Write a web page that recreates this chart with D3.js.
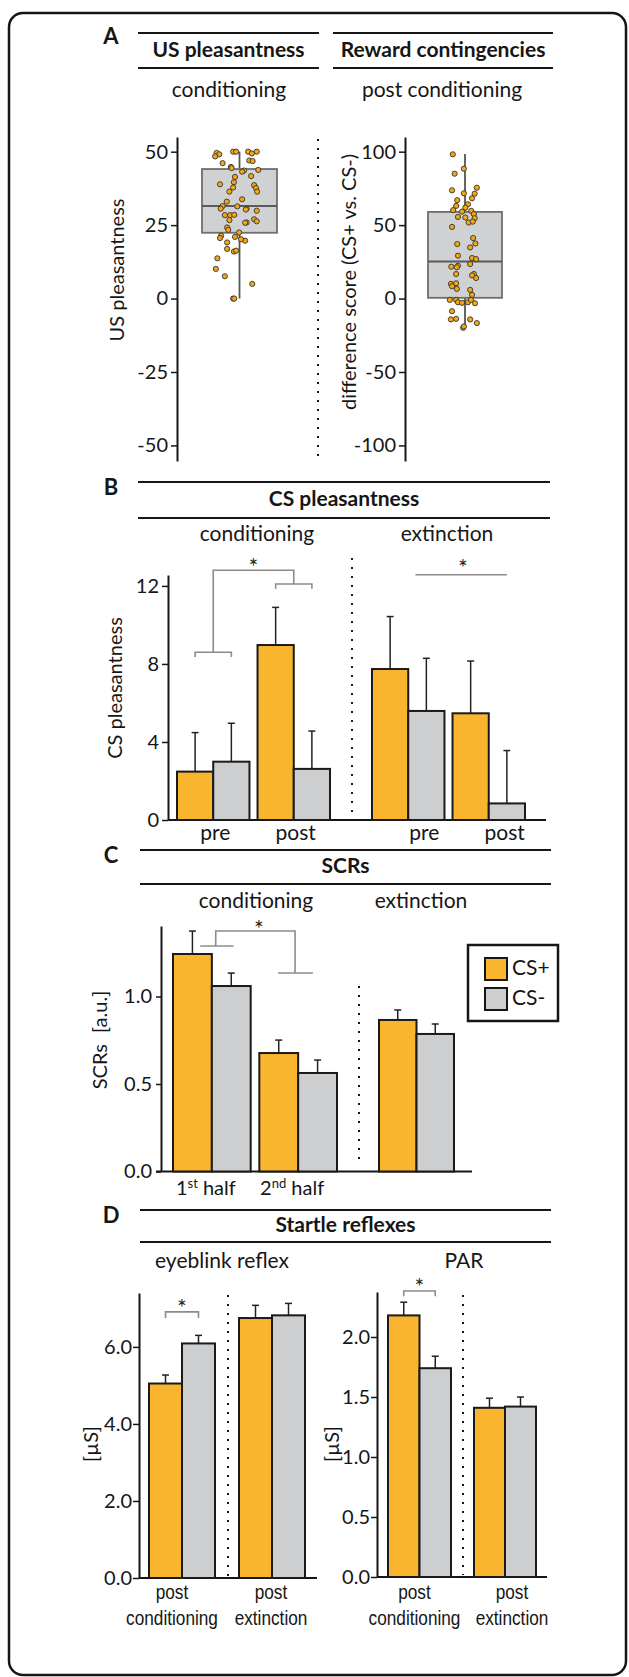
<!DOCTYPE html>
<html>
<head>
<meta charset="utf-8">
<script src="https://cdn.jsdelivr.net/npm/d3@7"></script>
<style>
  body { margin: 0; background: #fff; }
  svg { display: block; }
</style>
</head>
<body>
<div id="figure"></div>
<script>
// ---------- data ----------

// A: US pleasantness, one dot per participant + horizontal jitter (-1..1 of half box)
let usValues = [49.6, 49.1, 48.4, 50, 50, 50, 49.4, 50, 47.0, 46.8, 46.1, 44.8, 44.4, 43.8, 43.6,
  43.2, 41.4, 41.7, 39.6, 38.9, 38.6, 37.6, 36.4, 36.4, 37.8, 33.8, 33.0, 31.5, 30.6, 31.4,
  30.6, 30.3, 29.9, 28.4, 28.4, 28.5, 27.0, 26.3, 26.7, 25.9, 25.8, 24.2, 23.4, 22.5, 21.4,
  20.6, 21.0, 19.1, 19.7, 20.2, 16.9, 16.0, 16.3, 13.7, 10.1, 7.6, 5.0, 0, 0];
let usJitter = [-0.61, -0.54, -0.65, -0.17, -0.09, 0.23, 0.33, 0.46, 0.26, 0.35, -0.45, -0.23, -0.21, 0.5, 0.12,
  0.07, -0.12, 0.31, -0.15, -0.52, 0.39, 0.44, 0.47, -0.27, -0.17, 0.07, -0.34, -0.45, -0.5, -0.06,
  0.19, 0.17, 0.46, -0.39, -0.25, -0.14, 0.39, 0.46, -0.27, 0.19, 0.15, -0.33, -0.3, -0.01, -0.49,
  -0.52, -0.12, -0.33, 0.15, 0.04, -0.33, -0.15, -0.09, -0.59, -0.63, -0.39, 0.34, -0.17, -0.14];
let usBox = [0, 22.4, 31.5, 44.1, 50]; // min, q1, median, q3, max

// A: reward contingencies, difference score CS+ vs CS-
let diffValues = [98.2, 88.4, 85.0, 73.7, 75.5, 71.7, 71.4, 68.3, 67.0, 64.2, 63.1, 60.2, 61.9, 59.7, 59.2,
  57.5, 55.6, 55.2, 54.7, 51.8, 48.8, 52.4, 37.1, 41.2, 37.5, 34.8, 29.2, 27.6, 26.9, 22.4,
  21.3, 21.7, 23.5, 16.7, 14.0, 15.8, 16.7, 10.0, 10.4, 6.6, 8.4, 5.9, 2.5, -0.9, -0.9,
  -2.5, -2.9, -2.5, -3.2, -0.9, -8.6, -14.2, -13.8, -14.2, -16.7, -19.9, -19.0];
let diffJitter = [-0.33, -0.03, -0.28, -0.35, 0.32, -0.03, 0.26, 0.19, -0.21, 0.08, -0.24, -0.32, 0.01, 0.17, -0.08,
  0.24, -0.19, 0.01, 0.26, 0.1, -0.35, 0.21, -0.21, 0.22, 0.28, 0.14, -0.19, 0.19, 0.3, -0.19,
  -0.22, -0.37, 0.14, 0.24, 0.3, 0.19, -0.24, -0.38, -0.24, -0.22, -0.35, 0.14, 0.19, -0.41, -0.24,
  -0.19, -0.08, 0.08, 0.27, 0.16, -0.35, -0.38, -0.24, 0.14, 0.32, -0.05, -0.03];
let diffBox = [-19.9, 0.5, 25.3, 59.0, 98.5];

// B: CS pleasantness
let csGroups = ["pre", "post"];
let csCondPlus = [2.48, 8.97];
let csCondMinus = [2.99, 2.62];
let csCondErrPlus = [2.0, 1.93];
let csCondErrMinus = [1.97, 1.94];
let csExtPlus = [7.74, 5.47];
let csExtMinus = [5.59, 0.85];
let csExtErrPlus = [2.69, 2.68];
let csExtErrMinus = [2.7, 2.71];
let csTicks = [0, 4, 8, 12];

// C: SCRs
let scrGroups = ["1st", "2nd"];
let scrCondPlus = [1.243, 0.677];
let scrCondMinus = [1.06, 0.563];
let scrCondErrPlus = [0.131, 0.074];
let scrCondErrMinus = [0.074, 0.074];
let scrExtGroups = ["ext"];
let scrExtPlus = [0.866];
let scrExtMinus = [0.786];
let scrExtErrPlus = [0.057];
let scrExtErrMinus = [0.057];
let scrTicks = [0, 0.5, 1.0];

// D: startle reflexes (post conditioning, post extinction)
let eyeblinkPlus = [5.05, 6.75];
let eyeblinkMinus = [6.09, 6.82];
let eyeblinkErrPlus = [0.22, 0.33];
let eyeblinkErrMinus = [0.21, 0.31];
let eyeblinkTicks = [0, 2, 4, 6];
let parPlus = [2.18, 1.41];
let parMinus = [1.74, 1.42];
let parErrPlus = [0.11, 0.08];
let parErrMinus = [0.10, 0.08];
let parTicks = [0, 0.5, 1.0, 1.5, 2.0];

// ---------- styling ----------
let FONT = "Lato, 'Open Sans', sans-serif";
let NARROW = "'Liberation Sans', Arial, sans-serif";
let orange = "#F9B52E";
let grey = "#CDCED0";
let ink = "#161616";
let bracketGrey = "#8c8c8c";

// plain hyphen for negative ticks, like the original
let intFmt = d => String(d);
let oneDec = d => d3.format(".1f")(d);

let width = 629;
let height = 1677;

let svg = d3
  .select("#figure")
  .append("svg")
  .attr("width", width)
  .attr("height", height);

// rounded outer frame
svg
  .append("rect")
  .attr("x", 9)
  .attr("y", 13)
  .attr("width", 617)
  .attr("height", 1662)
  .attr("rx", 14)
  .attr("fill", "none")
  .attr("stroke", ink)
  .attr("stroke-width", 2.5);

// ---------- helpers ----------
function label(text, x, y, size, opts) {
  opts = opts || {};
  return svg
    .append("text")
    .attr("x", x)
    .attr("y", y)
    .attr("text-anchor", opts.anchor || "middle")
    .attr("dominant-baseline", "middle")
    .attr("font-family", opts.family || FONT)
    .attr("font-weight", opts.bold ? "bold" : "normal")
    .attr("font-size", size)
    .attr("fill", ink)
    .text(text);
}

// Arial-Narrow look: Liberation Sans squeezed horizontally
function narrowLabel(text, x, y, size) {
  svg
    .append("text")
    .attr("transform", "translate(" + x + "," + y + ") scale(0.82,1)")
    .attr("text-anchor", "middle")
    .attr("dominant-baseline", "middle")
    .attr("font-family", NARROW)
    .attr("font-size", size)
    .attr("fill", ink)
    .text(text);
}

function header(title, x0, x1, yTop, yBottom) {
  [yTop, yBottom].forEach(function(yy) {
    svg
      .append("line")
      .attr("x1", x0)
      .attr("x2", x1)
      .attr("y1", yy)
      .attr("y2", yy)
      .attr("stroke", ink)
      .attr("stroke-width", 2);
  });
  label(title, (x0 + x1) / 2, (yTop + yBottom) / 2 + 1, 21, { bold: true });
}

function panelLetter(letter, y) {
  label(letter, 111, y, 22, { bold: true });
}

function axisTitle(text, x, y) {
  return svg
    .append("text")
    .attr("transform", "translate(" + x + "," + y + ") rotate(-90)")
    .attr("text-anchor", "middle")
    .attr("dominant-baseline", "middle")
    .attr("font-family", FONT)
    .attr("font-size", 20)
    .attr("fill", ink)
    .text(text);
}

function yAxis(scale, x, ticks, fmt, opts) {
  opts = opts || {};
  let axis = d3
    .axisLeft(scale)
    .tickValues(ticks)
    .tickFormat(fmt)
    .tickSize(opts.tickSize || 6)
    .tickPadding(opts.pad || 3)
    .tickSizeOuter(0);
  let g = svg
    .append("g")
    .attr("transform", "translate(" + x + ",0)")
    .call(axis);
  g.select(".domain").attr("stroke", ink).attr("stroke-width", 2);
  g.selectAll(".tick line").attr("stroke", ink).attr("stroke-width", 1.5);
  g.selectAll(".tick text")
    .attr("font-family", FONT)
    .attr("font-size", opts.size || 19)
    .attr("fill", ink);
  return g;
}

function baseline(scale, x0, x1) {
  svg
    .append("line")
    .attr("x1", x0)
    .attr("x2", x1)
    .attr("y1", scale(0))
    .attr("y2", scale(0))
    .attr("stroke", ink)
    .attr("stroke-width", 2);
}

function dotted(x, y0, y1) {
  svg
    .append("line")
    .attr("x1", x)
    .attr("x2", x)
    .attr("y1", y0)
    .attr("y2", y1)
    .attr("stroke", ink)
    .attr("stroke-width", 2)
    .attr("stroke-dasharray", "2,7");
}

function star(x, y) {
  svg
    .append("text")
    .attr("x", x)
    .attr("y", y + 12)
    .attr("text-anchor", "middle")
    .attr("font-family", FONT)
    .attr("font-size", 23)
    .attr("fill", "#222")
    .text("*");
}

function pathLine(points) {
  svg
    .append("path")
    .attr("d", d3.line()(points))
    .attr("fill", "none")
    .attr("stroke", bracketGrey)
    .attr("stroke-width", 1.6);
}

// grouped bars, CS+ left and CS- right, upper error whiskers only
function drawBars(groups, plus, minus, errPlus, errMinus, x0, x1, y, pad) {
  let xg = d3.scaleBand().domain(groups).range([x0, x1]).paddingInner(pad);
  let xs = d3.scaleBand().domain(["CS+", "CS-"]).range([0, xg.bandwidth()]);
  let rows = [];
  groups.forEach(function(grp, i) {
    rows.push({ grp: grp, cs: "CS+", v: plus[i], e: errPlus[i] });
    rows.push({ grp: grp, cs: "CS-", v: minus[i], e: errMinus[i] });
  });
  let cx = function(d) {
    return xg(d.grp) + xs(d.cs) + xs.bandwidth() / 2;
  };
  let g = svg.append("g");
  g.selectAll(null)
    .data(rows)
    .enter()
    .append("line")
    .attr("x1", cx)
    .attr("x2", cx)
    .attr("y1", d => y(d.v))
    .attr("y2", d => y(d.v + d.e))
    .attr("stroke", "#222")
    .attr("stroke-width", 1.5);
  g.selectAll(null)
    .data(rows)
    .enter()
    .append("line")
    .attr("x1", d => cx(d) - 3.5)
    .attr("x2", d => cx(d) + 3.5)
    .attr("y1", d => y(d.v + d.e))
    .attr("y2", d => y(d.v + d.e))
    .attr("stroke", "#222")
    .attr("stroke-width", 1.5);
  g.selectAll(null)
    .data(rows)
    .enter()
    .append("rect")
    .attr("x", d => xg(d.grp) + xs(d.cs))
    .attr("width", xs.bandwidth())
    .attr("y", d => y(d.v))
    .attr("height", d => y(0) - y(d.v))
    .attr("fill", d => (d.cs === "CS+" ? orange : grey))
    .attr("stroke", "#1a1a1a")
    .attr("stroke-width", 2);
  return { xg: xg, xs: xs };
}

// box plot with jittered points
function boxPlot(stats, values, jitter, cx, halfW, y) {
  let jx = d3.scaleLinear().domain([-1, 1]).range([cx - halfW, cx + halfW]);
  let g = svg.append("g");
  [[stats[0], stats[1]], [stats[3], stats[4]]].forEach(function(w) {
    g.append("line")
      .attr("x1", cx)
      .attr("x2", cx)
      .attr("y1", y(w[0]))
      .attr("y2", y(w[1]))
      .attr("stroke", "#555")
      .attr("stroke-width", 1.8);
  });
  g.append("rect")
    .attr("x", jx(-1))
    .attr("width", jx(1) - jx(-1))
    .attr("y", y(stats[3]))
    .attr("height", y(stats[1]) - y(stats[3]))
    .attr("fill", "#D0D1D3")
    .attr("stroke", "#6e6e6e")
    .attr("stroke-width", 1.8);
  g.append("line")
    .attr("x1", jx(-1))
    .attr("x2", jx(1))
    .attr("y1", y(stats[2]))
    .attr("y2", y(stats[2]))
    .attr("stroke", "#5a5a5a")
    .attr("stroke-width", 2);
  g.selectAll("circle")
    .data(values)
    .enter()
    .append("circle")
    .attr("cx", (d, i) => jx(jitter[i]))
    .attr("cy", d => y(d))
    .attr("r", 2.6)
    .attr("fill", "#F3A712")
    .attr("stroke", "#333")
    .attr("stroke-width", 0.9);
}

// ---------- A ----------
panelLetter("A", 38);
header("US pleasantness", 138, 319, 33, 68);
header("Reward contingencies", 333, 553, 33, 68);
label("conditioning", 229, 92, 21);
label("post conditioning", 442, 92, 21);

let yUS = d3.scaleLinear().domain([-55.3, 55]).range([461, 137]);
yAxis(yUS, 177, [-50, -25, 0, 25, 50], intFmt, { size: 20 });
boxPlot(usBox, usValues, usJitter, 239.5, 37.5, yUS);
axisTitle("US pleasantness", 119, 270);

dotted(318, 139, 456);

let yDiff = d3.scaleLinear().domain([-110.6, 110]).range([461, 137]);
yAxis(yDiff, 405, [-100, -50, 0, 50, 100], intFmt, { size: 20 });
boxPlot(diffBox, diffValues, diffJitter, 465, 37, yDiff);
axisTitle("difference score (CS+ vs. CS-)", 351, 282);

// ---------- B ----------
panelLetter("B", 489);
header("CS pleasantness", 138, 550, 482, 518);
label("conditioning", 257, 536, 21);
label("extinction", 447, 536, 21);

let yCS = d3.scaleLinear().domain([0, 12.56]).range([820, 575]);
yAxis(yCS, 168, csTicks, intFmt, { size: 20 });
baseline(yCS, 168, 546);
let bCond = drawBars(csGroups, csCondPlus, csCondMinus, csCondErrPlus, csCondErrMinus, 177, 330, yCS, 0.1);
let bExt = drawBars(csGroups, csExtPlus, csExtMinus, csExtErrPlus, csExtErrMinus, 372, 525, yCS, 0.1);
dotted(352, 558, 818);
axisTitle("CS pleasantness", 117, 688);

csGroups.forEach(function(grp) {
  label(grp, bCond.xg(grp) + bCond.xg.bandwidth() / 2 + 2, 835, 21);
  label(grp, bExt.xg(grp) + bExt.xg.bandwidth() / 2 + 16, 835, 21);
});

// significance: conditioning (pre vs post interaction)
let bw = bCond.xg.bandwidth();
let preC = bCond.xg("pre");
let postC = bCond.xg("post");
pathLine([[preC + bw * 0.25, yCS(8.35)], [preC + bw * 0.25, yCS(8.6)], [preC + bw * 0.75, yCS(8.6)], [preC + bw * 0.75, yCS(8.35)]]);
pathLine([[preC + bw * 0.5, yCS(8.6)], [preC + bw * 0.5, yCS(12.8)], [postC + bw * 0.5, yCS(12.8)], [postC + bw * 0.5, yCS(12.1)]]);
pathLine([[postC + bw * 0.25, yCS(11.85)], [postC + bw * 0.25, yCS(12.1)], [postC + bw * 0.75, yCS(12.1)], [postC + bw * 0.75, yCS(11.85)]]);
star((preC + postC + bw) / 2, 563);
// extinction
pathLine([[bExt.xg("pre") + bw * 0.6, yCS(12.57)], [bExt.xg("post") + bw * 0.75, yCS(12.57)]]);
star(463, 564);

// ---------- C ----------
panelLetter("C", 857);
header("SCRs", 140, 551, 850, 884);
label("conditioning", 256, 903, 21);
label("extinction", 421, 903, 21);

let ySCR = d3.scaleLinear().domain([0, 1.403]).range([1171.5, 926]);
yAxis(ySCR, 161, scrTicks, oneDec, { size: 20, tickSize: 5, pad: 4 });
baseline(ySCR, 156, 472);
let cCond = drawBars(scrGroups, scrCondPlus, scrCondMinus, scrCondErrPlus, scrCondErrMinus, 173, 337, ySCR, 0.1);
drawBars(scrExtGroups, scrExtPlus, scrExtMinus, scrExtErrPlus, scrExtErrMinus, 379, 454, ySCR, 0);
dotted(359, 986, 1163);

axisTitle("SCRs [a.u.]", 102, 1040).attr("word-spacing", 6);

// 1st / 2nd half labels with superscripts
let halfSup = ["st", "nd"];
scrGroups.forEach(function(grp, i) {
  let t = svg
    .append("text")
    .attr("x", cCond.xg(grp) + cCond.xg.bandwidth() / 2 - 6)
    .attr("y", 1195)
    .attr("text-anchor", "middle")
    .attr("font-family", FONT)
    .attr("font-size", 20)
    .attr("fill", ink);
  t.append("tspan").text(grp.charAt(0));
  t.append("tspan").attr("dy", -7).attr("font-size", 13).text(halfSup[i]);
  t.append("tspan").attr("dy", 7).text(" half");
});

// significance: 1st vs 2nd half
let cbw = cCond.xg.bandwidth();
let h1 = cCond.xg("1st");
let h2 = cCond.xg("2nd");
pathLine([[h1 + cbw * 0.35, ySCR(1.289)], [h1 + cbw * 0.78, ySCR(1.289)]]);
pathLine([[h1 + cbw * 0.55, ySCR(1.289)], [h1 + cbw * 0.55, ySCR(1.374)], [h2 + cbw * 0.46, ySCR(1.374)], [h2 + cbw * 0.46, ySCR(1.134)]]);
pathLine([[h2 + cbw * 0.24, ySCR(1.134)], [h2 + cbw * 0.69, ySCR(1.134)]]);
star(259, 925);

// legend
let legend = svg.append("g");
legend
  .append("rect")
  .attr("x", 468)
  .attr("y", 945)
  .attr("width", 90)
  .attr("height", 76)
  .attr("fill", "#fff")
  .attr("stroke", ink)
  .attr("stroke-width", 2.5);
[["CS+", orange], ["CS-", grey]].forEach(function(item, i) {
  legend
    .append("rect")
    .attr("x", 485)
    .attr("y", 958 + i * 30)
    .attr("width", 22)
    .attr("height", 22)
    .attr("fill", item[1])
    .attr("stroke", ink)
    .attr("stroke-width", 2);
  legend
    .append("text")
    .attr("x", 512)
    .attr("y", 970 + i * 30)
    .attr("dominant-baseline", "middle")
    .attr("font-family", FONT)
    .attr("font-size", 21)
    .attr("fill", ink)
    .text(item[0]);
});

// ---------- D ----------
panelLetter("D", 1217);
header("Startle reflexes", 140, 551, 1210, 1242);
label("eyeblink reflex", 222, 1263, 21);
label("PAR", 464, 1263, 21);

let phaseLines = [["post", "conditioning"], ["post", "extinction"]];

// eyeblink
let yEye = d3.scaleLinear().domain([0, 7.4]).range([1578, 1293]);
yAxis(yEye, 139, eyeblinkTicks, oneDec, { size: 20, tickSize: 6, pad: 1 });
baseline(yEye, 139, 317);
let eyeCond = drawBars(["cond"], [eyeblinkPlus[0]], [eyeblinkMinus[0]], [eyeblinkErrPlus[0]], [eyeblinkErrMinus[0]], 149, 215, yEye, 0);
let eyeExt = drawBars(["ext"], [eyeblinkPlus[1]], [eyeblinkMinus[1]], [eyeblinkErrPlus[1]], [eyeblinkErrMinus[1]], 239, 305, yEye, 0);
dotted(228, 1295, 1576);
axisTitle("[\u00b5S]", 93, 1444);

// PAR
let yPar = d3.scaleLinear().domain([0, 2.375]).range([1577, 1292]);
yAxis(yPar, 377, parTicks, oneDec, { size: 20, tickSize: 6, pad: 1 });
baseline(yPar, 377, 547);
let parCond = drawBars(["cond"], [parPlus[0]], [parMinus[0]], [parErrPlus[0]], [parErrMinus[0]], 388, 451, yPar, 0);
let parExt = drawBars(["ext"], [parPlus[1]], [parMinus[1]], [parErrPlus[1]], [parErrMinus[1]], 474, 536, yPar, 0);
dotted(463, 1295, 1575);
axisTitle("[\u00b5S]", 334, 1444);

// phase labels under the D bars
[[eyeCond, -10], [eyeExt, -1], [parCond, -5], [parExt, 7]].forEach(function(item, i) {
  let b = item[0];
  let grp = b.xg.domain()[0];
  let cx = b.xg(grp) + b.xg.bandwidth() / 2 + item[1];
  let lines = phaseLines[i % 2];
  narrowLabel(lines[0], cx, 1593, 21);
  narrowLabel(lines[1], cx, 1619, 21);
});

// significance brackets in D
function dBracket(b, y, top, drop, starY) {
  let grp = b.xg.domain()[0];
  let x0 = b.xg(grp) + b.xs("CS+") + b.xs.bandwidth() / 2;
  let x1 = b.xg(grp) + b.xs("CS-") + b.xs.bandwidth() / 2;
  pathLine([[x0, y(drop)], [x0, y(top)], [x1, y(top)], [x1, y(drop)]]);
  star((x0 + x1) / 2, starY);
}
dBracket(eyeCond, yEye, 6.91, 6.75, 1304);
dBracket(parCond, yPar, 2.383, 2.34, 1283);
</script>
</body>
</html>
